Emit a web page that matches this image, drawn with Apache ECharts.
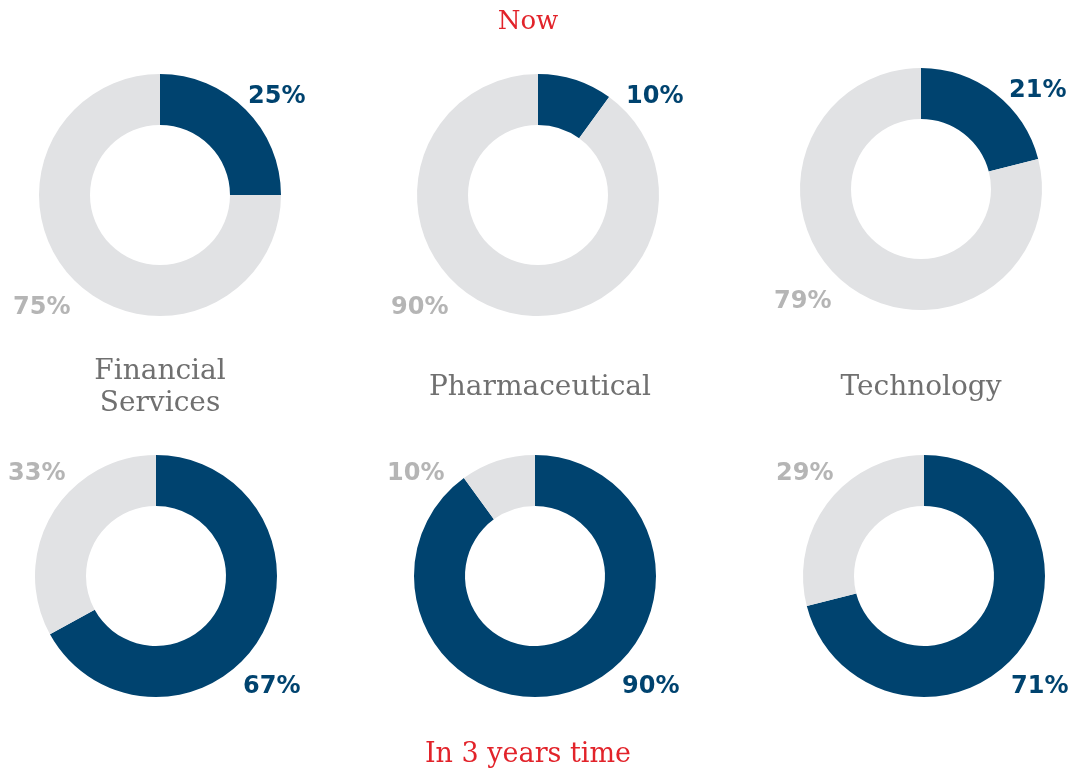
<!DOCTYPE html>
<html>
<head>
<meta charset="utf-8">
<script src="https://cdn.jsdelivr.net/npm/echarts@6/dist/echarts.min.js"></script>
<style>
  html, body { margin: 0; padding: 0; background: #fff; }
  #main { width: 1077px; height: 771px; }
</style>
</head>
<body>
<div id="main"></div>
<script>
// data
const sectors = ['Financial\nServices', 'Pharmaceutical', 'Technology'];
const nowShare = [25, 10, 21];        // dark slice, now
const futureShare = [67, 90, 71];     // dark slice, in 3 years time
const rowTitles = ['Now', 'In 3 years time'];

const colors = {
  dark: '#00436f',
  ring: '#e1e2e4',
  greyLabel: '#b5b5b5',
  sector: '#707070',
  red: '#e2232a',
};

// layout
const topCenters = [[160, 195], [538, 195], [921, 189]];
const bottomCenters = [[156, 576], [535, 576], [924, 576]];
const sectorLabelPos = [[160, 388], [540, 388], [921, 388]];
const radius = [70, 121];

const series = [];
const graphic = [];

function pctText(x, y, text, color) {
  graphic.push({
    type: 'text', x: x, y: y,
    style: {
      text: text, fill: color,
      font: 'bold 24px "DejaVu Sans", sans-serif',
      textAlign: 'left', textVerticalAlign: 'middle'
    }
  });
}

function addPie(center, dark) {
  series.push({
    type: 'pie',
    center: center,
    radius: radius,
    startAngle: 90,
    clockwise: true,
    silent: true,
    label: { show: false },
    labelLine: { show: false },
    data: [
      { value: dark, itemStyle: { color: colors.dark } },
      { value: 100 - dark, itemStyle: { color: colors.ring } },
    ],
  });
}

nowShare.forEach((v, i) => {
  const c = topCenters[i];
  addPie(c, v);
  pctText(c[0] + 88, c[1] - 98, v + '%', colors.dark);
  pctText(c[0] - 147, c[1] + 113, (100 - v) + '%', colors.greyLabel);
});

futureShare.forEach((v, i) => {
  const c = bottomCenters[i];
  addPie(c, v);
  pctText(c[0] + 87, c[1] + 111, v + '%', colors.dark);
  pctText(c[0] - 148, c[1] - 102, (100 - v) + '%', colors.greyLabel);
});

sectors.forEach((s, i) => {
  const p = sectorLabelPos[i];
  graphic.push({
    type: 'text', x: p[0], y: p[1],
    style: {
      text: s, fill: colors.sector,
      font: '28px "DejaVu Serif", serif',
      lineHeight: 32,
      textAlign: 'center', textVerticalAlign: 'middle'
    }
  });
});

graphic.push({
  type: 'text', x: 528, y: 22,
  style: { text: rowTitles[0], fill: colors.red, font: '26px "DejaVu Serif", serif',
    textAlign: 'center', textVerticalAlign: 'middle' }
});
graphic.push({
  type: 'text', x: 528, y: 755,
  style: { text: rowTitles[1], fill: colors.red, font: '27px "DejaVu Serif", serif',
    textAlign: 'center', textVerticalAlign: 'middle' }
});

const chart = echarts.init(document.getElementById('main'));
chart.setOption({
  animation: false,
  backgroundColor: '#fff',
  series: series,
  graphic: graphic,
});
</script>
</body>
</html>
